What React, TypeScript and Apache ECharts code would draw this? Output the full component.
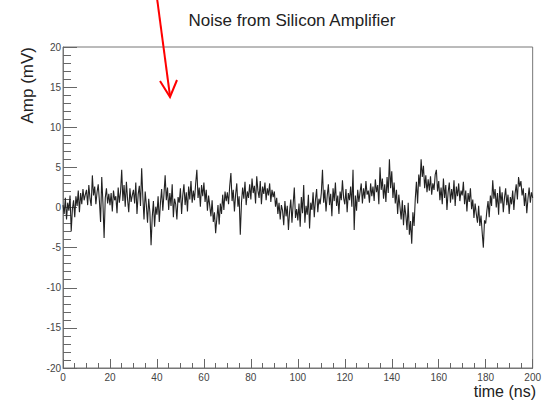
import React, { useEffect, useRef } from "react";
import * as echarts from "echarts";

// Sample step of the digitizer (ns)
const sampleStepNs = 0.5;

// Amplitude samples (mV), 0.5 ns apart
const noise0to50 = [
  0.3, -0.8, 1.2, -1.5, 0.6, -0.4, 1.5, -3.0, -0.2, 0.9, -1.2, 1.4, 0.2, 2.1, -0.6, 1.8, 0.4, 2.3, 0.9, 1.6,
  2.2, 0.3, 2.8, 1.1, 0.2, 4.0, 1.5, 2.6, 0.4, 1.9, 2.9, 0.8, -1.8, 3.8, 0.6, -3.8, 1.2, 2.4, 0.5, 1.7,
  0.3, 1.8, -0.5, 2.1, 0.9, 1.4, -0.7, 2.5, 0.6, 1.9, 4.7, 0.8, 2.8, 0.1, 3.2, 1.0, -0.6, 2.4, 0.7, 1.5,
  2.2, 0.5, 3.1, -0.8, 1.6, 2.7, 0.2, 4.9, 1.3, -1.5, 2.0, 0.3, -1.9, 1.1, -0.6, -4.7, -1.2, 0.8, -2.4, 0.1,
  -0.9, 1.4, -1.8, 0.6, 2.3, -0.4, 1.7, 4.0, 0.9, 2.5, -0.3, 1.8, 0.2, 2.9, -1.2, 1.1, 0.4, -1.5, 1.3, 0.6,
];
const noise50to100 = [
  2.4, -0.8, 1.5, 2.9, 0.3, 1.9, -0.5, 2.6, 1.0, 3.3, 0.6, 2.1, 0.9, 3.0, 4.7, 1.2, 2.5, 0.1, 2.8, 1.4,
  3.1, 0.7, 2.2, -0.4, 1.5, 0.2, -1.1, 0.9, -1.8, -0.6, -3.2, -1.4, 0.3, -2.1, 0.5, -0.8, 1.6, -0.3, 2.0, 0.8,
  1.9, 0.4, 2.7, 4.3, 0.8, 2.2, -0.5, 1.6, 3.0, 0.1, 1.4, -3.4, 0.6, 2.5, 1.1, 3.2, 0.3, 2.0, 1.2, 2.9,
  1.0, 3.6, 1.8, 2.7, 0.5, 3.9, 2.1, 1.2, 3.3, 0.4, 2.6, 1.7, 3.1, 0.9, 2.4, 1.5, 3.0, 0.7, 2.2, 1.3,
  2.0, 0.1, 1.2, -0.8, 0.6, -1.5, 0.3, -0.4, -2.2, 0.8, -1.1, 0.2, -2.8, -0.5, 1.0, -1.9, 0.4, 2.5, -1.3, -0.2,
];
const noise100to150 = [
  -1.6, 0.5, -2.4, 1.3, -0.7, 2.8, -1.9, 0.2, -0.9, 1.6, -2.6, 0.6, -0.3, 1.9, -1.2, 0.9, 2.3, -0.6, 1.1, 0.4,
  1.8, 4.7, 0.6, 2.2, -0.5, 1.4, 2.9, 0.3, 1.7, -1.1, 2.4, 0.8, 3.1, 0.2, 1.5, -0.8, 2.0, 0.9, 3.4, 1.2,
  0.4, 2.3, -0.6, 1.8, 0.9, 2.6, 0.1, 4.7, -2.8, 1.5, -0.4, 2.2, 0.7, 1.9, 3.0, 0.5, 2.4, 1.1, 3.3, 1.6,
  2.1, 0.6, 3.0, 1.4, 2.6, 0.8, 3.5, 1.9, 2.8, 0.4, 5.0, 2.2, 3.6, 1.1, 2.9, 0.7, 3.8, 1.8, 6.0, 2.4,
  4.5, 1.2, 3.1, 0.5, 2.2, -0.8, 1.6, 0.1, -1.5, 0.9, -2.2, 0.3, -1.0, -2.8, 0.6, -3.4, -1.7, -4.5, -0.6, -2.3,
];
const noise150to200 = [
  1.0, 3.2, 0.5, 4.1, 2.6, 6.0, 3.8, 5.2, 2.4, 4.0, 1.9, 3.5, 2.1, 3.9, 1.6, 3.0, 2.2, 4.1, 4.7, 2.0,
  3.3, 0.9, 2.5, 0.4, 3.6, 1.2, 2.8, -0.3, 1.9, 3.1, 0.6, 2.3, 1.0, 3.4, 0.2, 2.6, 1.4, 3.0, 0.8, 2.1,
  1.5, 3.2, 0.4, 2.1, -0.5, 1.8, 0.7, 2.4, -0.2, 1.0, -1.3, 0.5, -0.8, -1.9, 0.2, -2.3, -1.0, -3.1, -5.0, -1.6,
  -2.0, -0.4, 0.8, -1.2, 1.5, 0.2, 3.4, 1.1, 2.3, 0.0, 1.8, -0.9, 2.6, 0.5, 1.9, -0.6, 1.2, 2.4, 0.3, 1.6,
  -0.8, 1.3, 0.4, 2.1, -0.3, 1.7, 2.9, 1.0, 3.8, 2.6, 3.3, 1.5, 2.4, 0.2, 1.8, -0.7, 1.1, 2.5, 0.6, 1.9,
  1.2,
];

const chartTitle = "Noise from Silicon Amplifier";
const xAxisTitle = "time (ns)";
const yAxisTitle = "Amp (mV)";

const FONT = "'Liberation Sans', Arial, Helvetica, sans-serif";

export default function App() {
  const ref = useRef<HTMLDivElement>(null);

  useEffect(() => {
    if (!ref.current) return;
    const chart = echarts.init(ref.current, undefined, { renderer: "svg" });
    const samples = [...noise0to50, ...noise50to100, ...noise100to150, ...noise150to200];
    const data = samples.map((v, i) => [i * sampleStepNs, v]);

    chart.setOption({
      animation: false,
      backgroundColor: "#ffffff",
      textStyle: { fontFamily: FONT },
      grid: {
        left: 63,
        right: 7,
        top: 47,
        bottom: 33,
        show: true,
        borderColor: "#777",
        borderWidth: 1,
        backgroundColor: "transparent",
        containLabel: false,
      },
      xAxis: {
        type: "value",
        min: 0,
        max: 200,
        interval: 20,
        axisLine: { show: true, onZero: false, lineStyle: { color: "#777", width: 1 } },
        axisTick: { show: true, inside: true, length: 9, lineStyle: { color: "#666" } },
        minorTick: { show: true, splitNumber: 4, length: 5, lineStyle: { color: "#666" } },
        splitLine: { show: false },
        minorSplitLine: { show: false },
        axisLabel: { color: "#444", fontSize: 10, margin: 4, fontFamily: FONT },
      },
      yAxis: {
        type: "value",
        min: -20,
        max: 20,
        interval: 5,
        axisLine: { show: true, onZero: false, lineStyle: { color: "#777", width: 1 } },
        axisTick: { show: true, inside: true, length: 14, lineStyle: { color: "#666" } },
        minorTick: { show: true, splitNumber: 5, length: 8, lineStyle: { color: "#666" } },
        splitLine: { show: false },
        minorSplitLine: { show: false },
        axisLabel: { color: "#444", fontSize: 10, margin: 2, fontFamily: FONT },
      },
      series: [
        {
          type: "line",
          data,
          showSymbol: false,
          symbol: "none",
          lineStyle: { color: "#222", width: 1.1 },
          silent: true,
        },
      ],
      graphic: [
        {
          type: "text",
          x: 292,
          y: 20,
          style: {
            text: chartTitle,
            fontSize: 17,
            fontFamily: FONT,
            fill: "#222",
            align: "center",
            verticalAlign: "middle",
          },
        },
        {
          type: "text",
          x: 536,
          y: 391,
          style: {
            text: xAxisTitle,
            fontSize: 16,
            fontFamily: FONT,
            fill: "#222",
            align: "right",
            verticalAlign: "middle",
          },
        },
        {
          type: "text",
          x: 27,
          y: 47,
          rotation: Math.PI / 2,
          style: {
            text: yAxisTitle,
            fontSize: 17,
            fontFamily: FONT,
            fill: "#222",
            align: "right",
            verticalAlign: "middle",
          },
        },
        {
          type: "line",
          shape: { x1: 157, y1: -2, x2: 170, y2: 96 },
          style: { stroke: "#ff0000", lineWidth: 2 },
        },
        {
          type: "polyline",
          shape: { points: [[160, 81], [170, 97], [177, 80]] },
          style: { stroke: "#ff0000", lineWidth: 2, fill: null },
        },
      ],
    });

    return () => chart.dispose();
  }, []);

  return (
    <div
      ref={ref}
      style={{ position: "fixed", left: 0, top: 0, width: 544, height: 401 }}
    />
  );
}
